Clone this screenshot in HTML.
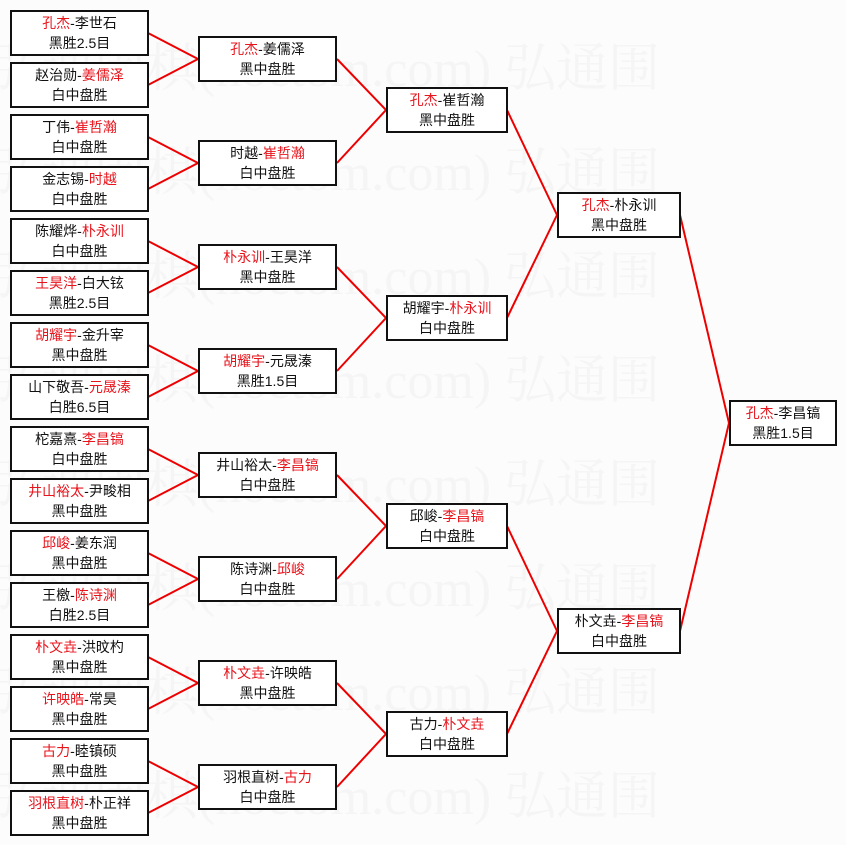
<!DOCTYPE html>
<html><head><meta charset="utf-8"><style>
html,body{margin:0;padding:0;}
body{width:846px;height:845px;background:#fcfcfc;position:relative;overflow:hidden;font-family:"Liberation Sans","Noto Sans CJK SC","WenQuanYi Zen Hei",sans-serif;}
.wm{position:absolute;left:0;font-size:52px;color:#f5f5f5;white-space:nowrap;font-family:"Liberation Serif","Noto Serif CJK SC",serif;line-height:60px;}
.b{position:absolute;box-sizing:border-box;border:2px solid #111;background:#fff;text-align:center;font-size:14px;line-height:20px;padding-top:1px;color:#111;height:46px;}
.c1{left:10px;width:139px;}
.c2{left:198px;width:139px;}
.c3{left:386px;width:122px;}
.c4{left:557px;width:124px;}
.c5{left:729px;width:108px;}
.r{color:#e8141c;}
svg{position:absolute;left:0;top:0;}
</style></head><body>
<div class="wm" style="top:40px;left:-10px">弘通围棋(hoetom.com) 弘通围</div>
<div class="wm" style="top:144px;left:-10px">弘通围棋(hoetom.com) 弘通围</div>
<div class="wm" style="top:248px;left:-10px">弘通围棋(hoetom.com) 弘通围</div>
<div class="wm" style="top:352px;left:-10px">弘通围棋(hoetom.com) 弘通围</div>
<div class="wm" style="top:456px;left:-10px">弘通围棋(hoetom.com) 弘通围</div>
<div class="wm" style="top:560px;left:-10px">弘通围棋(hoetom.com) 弘通围</div>
<div class="wm" style="top:664px;left:-10px">弘通围棋(hoetom.com) 弘通围</div>
<div class="wm" style="top:768px;left:-10px">弘通围棋(hoetom.com) 弘通围</div>
<svg width="846" height="845" stroke="#e00" stroke-width="2" fill="none">
<path d="M148 33L198 59M148 85L198 59M148 137L198 163M148 189L198 163M148 241L198 267M148 293L198 267M148 345L198 371M148 397L198 371M148 449L198 475M148 501L198 475M148 553L198 579M148 605L198 579M148 657L198 683M148 709L198 683M148 761L198 787M148 813L198 787"/>
<path d="M337 59L386 110M337 163L386 110M337 267L386 318M337 371L386 318M337 475L386 526M337 579L386 526M337 683L386 734M337 787L386 734"/>
<path d="M507 110L557 215M507 318L557 215M507 526L557 631M507 734L557 631"/>
<path d="M680 215L729 423M680 631L729 423"/>
</svg>
<div class="b c1" style="top:10px"><span class="r">孔杰</span>-李世石<br>黑胜2.5目</div>
<div class="b c1" style="top:62px">赵治勋-<span class="r">姜儒泽</span><br>白中盘胜</div>
<div class="b c1" style="top:114px">丁伟-<span class="r">崔哲瀚</span><br>白中盘胜</div>
<div class="b c1" style="top:166px">金志锡-<span class="r">时越</span><br>白中盘胜</div>
<div class="b c1" style="top:218px">陈耀烨-<span class="r">朴永训</span><br>白中盘胜</div>
<div class="b c1" style="top:270px"><span class="r">王昊洋</span>-白大铉<br>黑胜2.5目</div>
<div class="b c1" style="top:322px"><span class="r">胡耀宇</span>-金升宰<br>黑中盘胜</div>
<div class="b c1" style="top:374px">山下敬吾-<span class="r">元晟溱</span><br>白胜6.5目</div>
<div class="b c1" style="top:426px">柁嘉熹-<span class="r">李昌镐</span><br>白中盘胜</div>
<div class="b c1" style="top:478px"><span class="r">井山裕太</span>-尹畯相<br>黑中盘胜</div>
<div class="b c1" style="top:530px"><span class="r">邱峻</span>-姜东润<br>黑中盘胜</div>
<div class="b c1" style="top:582px">王檄-<span class="r">陈诗渊</span><br>白胜2.5目</div>
<div class="b c1" style="top:634px"><span class="r">朴文垚</span>-洪旼杓<br>黑中盘胜</div>
<div class="b c1" style="top:686px"><span class="r">许映皓</span>-常昊<br>黑中盘胜</div>
<div class="b c1" style="top:738px"><span class="r">古力</span>-睦镇硕<br>黑中盘胜</div>
<div class="b c1" style="top:790px"><span class="r">羽根直树</span>-朴正祥<br>黑中盘胜</div>

<div class="b c2" style="top:36px"><span class="r">孔杰</span>-姜儒泽<br>黑中盘胜</div>
<div class="b c2" style="top:140px">时越-<span class="r">崔哲瀚</span><br>白中盘胜</div>
<div class="b c2" style="top:244px"><span class="r">朴永训</span>-王昊洋<br>黑中盘胜</div>
<div class="b c2" style="top:348px"><span class="r">胡耀宇</span>-元晟溱<br>黑胜1.5目</div>
<div class="b c2" style="top:452px">井山裕太-<span class="r">李昌镐</span><br>白中盘胜</div>
<div class="b c2" style="top:556px">陈诗渊-<span class="r">邱峻</span><br>白中盘胜</div>
<div class="b c2" style="top:660px"><span class="r">朴文垚</span>-许映皓<br>黑中盘胜</div>
<div class="b c2" style="top:764px">羽根直树-<span class="r">古力</span><br>白中盘胜</div>

<div class="b c3" style="top:87px"><span class="r">孔杰</span>-崔哲瀚<br>黑中盘胜</div>
<div class="b c3" style="top:295px">胡耀宇-<span class="r">朴永训</span><br>白中盘胜</div>
<div class="b c3" style="top:503px">邱峻-<span class="r">李昌镐</span><br>白中盘胜</div>
<div class="b c3" style="top:711px">古力-<span class="r">朴文垚</span><br>白中盘胜</div>

<div class="b c4" style="top:192px"><span class="r">孔杰</span>-朴永训<br>黑中盘胜</div>
<div class="b c4" style="top:608px">朴文垚-<span class="r">李昌镐</span><br>白中盘胜</div>

<div class="b c5" style="top:400px"><span class="r">孔杰</span>-李昌镐<br>黑胜1.5目</div>
</body></html>
